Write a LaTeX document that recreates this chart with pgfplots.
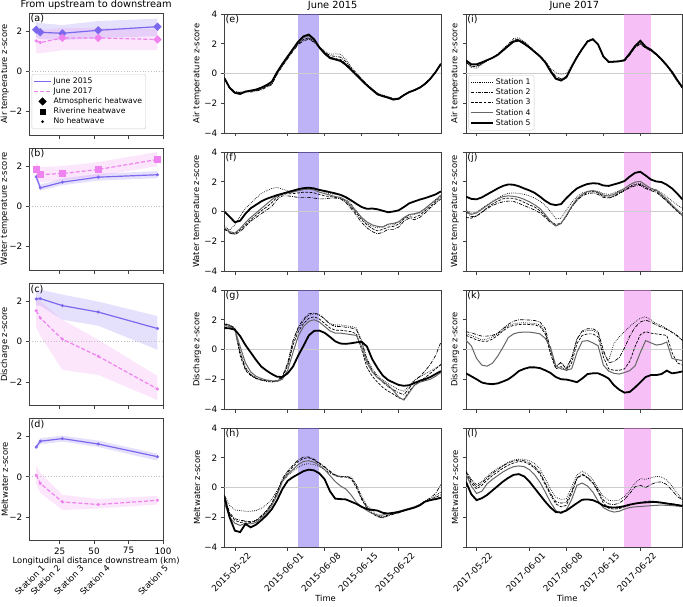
\documentclass[border=0pt]{standalone}
\usepackage{fontspec}
\setmainfont{DejaVu Sans}
\usepackage{pgfplots}
\pgfplotsset{compat=1.18}
\usepackage{pgfplotstable}

\definecolor{c15}{HTML}{7B68EE}
\definecolor{c17}{HTML}{EE82EE}
\newcommand{\fsz}{\fontsize{8.8}{10}\selectfont}
\newcommand{\lsz}{\fontsize{8.4}{10}\selectfont}
\newcommand{\tsz}{\fontsize{9.8}{11}\selectfont}
\newcommand{\lgf}{\fontsize{7.7}{9}\selectfont}
\newcommand{\pfs}{\fontsize{9.6}{11}\selectfont}

% ---------- station means along the river (km downstream) ----------
\pgfplotstableread{
x  y15  y17
8  2.07 1.51
11 1.94 1.43
27 1.89 1.66
53 2.04 1.66
96 2.22 1.58
}\airdist
\pgfplotstableread{
x  y15  y17
8  1.47 1.83
11 0.92 1.58
27 1.20 1.63
53 1.45 1.83
96 1.57 2.33
}\waterdist
\pgfplotstableread{
x  y15  y17
8  2.13 1.55
11 2.15 1.18
27 1.80 0.13
53 1.48 -0.72
96 0.66 -2.35
}\qdist
\pgfplotstableread{
x  y15  y17
8  1.48 0.08
11 1.77 -0.33
27 1.90 -1.25
53 1.63 -1.38
96 1.00 -1.17
}\meltdist

% ---------- daily z-scores, d = days after 22 May ----------
\pgfplotstableread{
d  s1    s2    s3    s4    s5
-2 -0.28 -0.30 -0.35 -0.32 -0.30
-1 -0.92 -0.95 -1.00 -0.98 -0.95
0  -1.22 -1.25 -1.28 -1.32 -1.30
1  -1.25 -1.28 -1.30 -1.35 -1.38
2  -1.18 -1.22 -1.25 -1.20 -1.22
3  -1.20 -1.25 -1.20 -1.18 -1.15
4  -1.12 -1.18 -1.15 -1.10 -1.08
5  -1.02 -1.10 -1.05 -0.98 -0.95
6  -0.85 -0.92 -0.88 -0.80 -0.78
7  -0.68 -0.75 -0.70 -0.60 -0.55
8  0.00  -0.05 0.00  0.05  0.10
9  0.55  0.50  0.55  0.60  0.65
10 1.05  1.00  1.05  1.10  1.15
11 1.55  1.50  1.55  1.60  1.65
12 2.00  1.95  2.00  2.10  2.15
13 2.28  2.20  2.30  2.42  2.50
14 2.38  2.30  2.40  2.52  2.62
15 2.18  2.10  2.15  2.22  2.30
16 1.80  1.75  1.75  1.70  1.75
17 1.50  1.45  1.40  1.30  1.35
18 1.30  1.20  1.10  1.00  1.05
19 1.32  1.15  1.00  0.92  0.95
20 1.30  1.10  0.95  0.82  0.85
21 0.95  0.80  0.65  0.55  0.60
22 0.45  0.35  0.28  0.22  0.25
23 0.05  -0.02 -0.08 -0.12 -0.10
24 -0.35 -0.38 -0.42 -0.48 -0.45
25 -0.72 -0.75 -0.78 -0.82 -0.80
26 -1.02 -1.05 -1.08 -1.12 -1.10
27 -1.32 -1.35 -1.38 -1.42 -1.40
28 -1.45 -1.48 -1.50 -1.55 -1.52
29 -1.55 -1.58 -1.60 -1.65 -1.62
30 -1.68 -1.70 -1.72 -1.78 -1.75
31 -1.64 -1.66 -1.68 -1.72 -1.70
32 -1.42 -1.44 -1.45 -1.47 -1.45
33 -1.22 -1.24 -1.25 -1.27 -1.25
34 -1.08 -1.10 -1.12 -1.14 -1.12
35 -0.92 -0.93 -0.95 -0.97 -0.95
36 -0.66 -0.68 -0.70 -0.72 -0.70
37 -0.32 -0.34 -0.36 -0.37 -0.35
38 0.12  0.10  0.08  0.08  0.10
39 0.66  0.64  0.62  0.62  0.65
}\airA
\pgfplotstableread{
d  s1    s2    s3    s4    s5
-2 -0.95 -1.15 -1.20 -1.10 0.00
-1 -1.25 -1.45 -1.40 -1.35 -0.35
0  -0.90 -1.55 -1.50 -1.45 -0.72
1  -0.30 -1.35 -1.25 -1.15 -0.62
2  0.20  -1.00 -0.90 -0.75 -0.15
3  0.55  -0.65 -0.55 -0.40 0.22
4  0.90  -0.40 -0.25 -0.10 0.45
5  1.20  -0.15 0.05  0.20  0.68
6  1.40  0.10  0.30  0.50  0.85
7  1.55  0.35  0.60  0.80  0.98
8  1.62  0.80  0.95  1.05  1.10
9  1.50  1.05  1.15  1.20  1.20
10 1.40  1.05  1.20  1.25  1.30
11 1.35  1.00  1.20  1.30  1.40
12 1.40  0.95  1.25  1.40  1.50
13 1.50  0.95  1.30  1.48  1.57
14 1.55  0.95  1.30  1.50  1.60
15 1.50  0.90  1.25  1.45  1.55
16 1.45  0.85  1.15  1.30  1.45
17 1.30  0.85  1.05  1.20  1.38
18 1.20  0.90  1.00  1.10  1.30
19 1.15  0.90  0.95  1.00  1.22
20 1.10  0.85  0.90  0.95  1.12
21 0.90  0.60  0.70  0.75  0.97
22 0.50  0.20  0.30  0.40  0.75
23 0.05  -0.25 -0.10 0.00  0.52
24 -0.45 -0.75 -0.55 -0.40 0.30
25 -0.80 -1.10 -0.90 -0.70 0.18
26 -1.00 -1.35 -1.15 -0.90 0.20
27 -1.10 -1.50 -1.30 -1.00 0.15
28 -1.00 -1.40 -1.20 -1.05 0.05
29 -0.90 -1.20 -1.05 -0.85 -0.05
30 -0.90 -1.20 -1.00 -0.80 0.00
31 -0.70 -1.05 -0.85 -0.70 0.08
32 -0.45 -0.65 -0.50 -0.40 0.30
33 -0.25 -0.45 -0.35 -0.20 0.55
34 -0.20 -0.55 -0.40 -0.15 0.68
35 -0.10 -0.40 -0.25 -0.05 0.80
36 0.15  -0.10 0.05  0.20  0.90
37 0.50  0.25  0.35  0.50  1.02
38 0.80  0.55  0.65  0.75  1.15
39 1.10  0.85  1.00  1.10  1.35
}\waterA
\pgfplotstableread{
d  s1    s2    s3    s4    s5
-2 1.75  1.70  1.65  1.60  1.45
-1 1.65  1.65  1.60  1.55  1.42
0  1.40  1.45  1.35  1.30  1.33
1  -0.10 -0.20 -0.40 0.20  0.90
2  -1.20 -1.30 -1.40 -0.90 0.30
3  -1.65 -1.70 -1.75 -1.50 -0.20
4  -1.90 -1.95 -1.95 -1.80 -0.70
5  -2.05 -2.05 -2.05 -1.95 -1.15
6  -2.15 -2.10 -2.10 -2.05 -1.42
7  -2.20 -2.12 -2.15 -2.10 -1.65
8  -2.15 -2.10 -2.15 -2.15 -1.83
9  -1.85 -1.80 -1.90 -2.00 -1.85
10 -1.00 -0.90 -1.10 -1.40 -1.60
11 0.50  0.60  0.30  -0.20 -1.15
12 1.40  1.50  1.20  0.90  -0.40
13 1.95  2.05  1.75  1.55  0.25
14 2.30  2.40  2.10  1.90  0.95
15 2.40  2.45  2.20  2.00  1.25
16 2.30  2.35  2.05  1.85  1.27
17 2.05  2.05  1.75  1.55  1.12
18 1.75  1.70  1.45  1.25  0.85
19 1.65  1.55  1.30  1.10  0.55
20 1.65  1.55  1.30  1.10  0.40
21 1.60  1.50  1.25  1.05  0.38
22 1.55  1.45  1.20  1.00  0.42
23 1.45  1.35  1.05  0.95  0.48
24 0.60  0.50  0.00  0.20  0.52
25 -0.60 -0.70 -1.20 -0.90 0.20
26 -1.30 -1.40 -1.80 -1.50 -0.65
27 -1.75 -1.85 -2.20 -1.90 -1.25
28 -2.05 -2.20 -2.55 -2.15 -1.75
29 -2.30 -2.50 -2.80 -2.40 -2.05
30 -2.50 -2.70 -3.00 -2.75 -2.22
31 -2.70 -2.90 -3.25 -3.20 -2.38
32 -2.80 -3.05 -3.35 -3.40 -2.44
33 -2.45 -2.60 -2.80 -2.90 -2.40
34 -2.05 -2.10 -2.40 -2.40 -2.25
35 -1.85 -1.80 -2.10 -2.20 -2.10
36 -1.65 -1.45 -1.90 -2.10 -2.00
37 -1.45 -1.00 -1.60 -2.00 -1.85
38 -1.25 -0.40 -1.30 -1.80 -1.65
39 -1.05 0.50  -1.00 -1.55 -1.45
}\qA
\pgfplotstableread{
d  s1    s2    s3    s4    s5
-2 -0.50 -0.50 -0.80 -1.00 -0.60
-1 -1.20 -1.70 -1.80 -2.00 -2.00
0  -1.50 -2.10 -2.20 -2.40 -2.90
1  -1.55 -2.20 -2.35 -2.55 -3.00
2  -1.60 -2.25 -2.30 -2.40 -2.45
3  -1.60 -2.30 -2.35 -2.45 -2.68
4  -1.55 -2.20 -2.25 -2.35 -2.50
5  -1.40 -1.90 -1.95 -2.05 -2.20
6  -1.15 -1.55 -1.60 -1.70 -1.87
7  -0.80 -1.05 -1.10 -1.20 -1.45
8  -0.20 -0.30 -0.40 -0.50 -0.85
9  0.40  0.60  0.50  0.40  -0.10
10 0.80  1.10  1.00  0.90  0.45
11 1.10  1.50  1.40  1.20  0.70
12 1.35  1.85  1.75  1.55  0.90
13 1.55  2.05  1.95  1.75  1.10
14 1.60  2.05  2.00  1.80  1.20
15 1.55  1.90  1.85  1.70  1.15
16 1.40  1.65  1.60  1.50  0.95
17 1.20  1.40  1.35  1.20  0.55
18 0.95  1.10  1.05  0.80  -0.25
19 0.80  0.85  0.80  0.40  -0.75
20 0.75  0.75  0.70  0.10  -0.78
21 0.75  0.75  0.70  -0.10 -0.80
22 0.70  0.65  0.60  -0.50 -0.95
23 0.20  0.10  0.00  -1.00 -1.10
24 -0.60 -0.70 -0.80 -1.30 -1.30
25 -1.20 -1.30 -1.40 -1.55 -1.45
26 -1.60 -1.70 -1.75 -1.75 -1.50
27 -1.85 -1.95 -1.95 -1.85 -1.55
28 -2.00 -2.05 -2.00 -1.85 -1.70
29 -1.85 -1.90 -1.85 -1.75 -1.75
30 -1.75 -1.80 -1.75 -1.70 -1.70
31 -1.65 -1.70 -1.70 -1.60 -1.65
32 -1.55 -1.55 -1.55 -1.50 -1.55
33 -1.45 -1.45 -1.45 -1.40 -1.45
34 -1.35 -1.30 -1.35 -1.30 -1.35
35 -1.15 -1.15 -1.20 -1.15 -1.20
36 -0.95 -0.90 -0.95 -0.95 -0.95
37 -0.80 -0.70 -0.80 -0.85 -0.85
38 -0.55 -0.40 -0.65 -0.75 -0.78
39 -0.30 0.20  -0.50 -0.65 -0.70
}\meltA
\pgfplotstableread{
d  s1    s2    s3    s4    s5
-2 0.80  0.75  0.78  0.85  0.88
-1 0.40  0.50  0.48  0.60  0.62
0  0.35  0.45  0.50  0.58  0.62
1  0.60  0.65  0.68  0.72  0.75
2  0.85  0.85  0.88  0.90  0.90
3  1.05  1.05  1.05  1.05  1.05
4  1.30  1.30  1.28  1.25  1.25
5  1.65  1.60  1.58  1.55  1.55
6  2.00  1.95  1.90  1.85  1.85
7  2.35  2.25  2.20  2.12  2.15
8  2.40  2.30  2.25  2.18  2.22
9  2.15  2.10  2.05  2.00  2.00
10 1.85  1.80  1.78  1.75  1.75
11 1.50  1.48  1.45  1.45  1.45
12 1.20  1.20  1.15  1.15  1.15
13 0.85  0.80  0.78  0.75  0.75
14 0.35  0.25  0.20  0.15  0.15
15 0.05  -0.20 -0.30 -0.38 -0.35
16 -0.05 -0.35 -0.42 -0.50 -0.47
17 0.00  -0.20 -0.25 -0.28 -0.25
18 0.55  0.45  0.42  0.45  0.45
19 1.15  1.10  1.08  1.10  1.10
20 1.70  1.65  1.65  1.65  1.65
21 2.20  2.15  2.18  2.15  2.15
22 2.35  2.30  2.30  2.28  2.30
23 1.95  1.95  1.95  1.95  1.95
24 1.10  1.10  1.12  1.15  1.15
25 0.75  0.75  0.76  0.78  0.78
26 0.75  0.78  0.78  0.80  0.80
27 0.80  0.80  0.82  0.82  0.82
28 0.85  0.85  0.88  0.90  0.90
29 1.25  1.25  1.30  1.35  1.35
30 1.75  1.75  1.80  1.85  1.85
31 2.00  1.98  2.05  2.15  2.20
32 1.72  1.70  1.75  1.78  1.80
33 1.55  1.52  1.55  1.58  1.60
34 1.25  1.25  1.28  1.30  1.30
35 0.90  0.92  0.95  0.98  0.95
36 0.50  0.55  0.55  0.58  0.55
37 0.00  0.05  0.08  0.12  0.10
38 -0.55 -0.50 -0.48 -0.42 -0.45
39 -1.05 -1.00 -1.00 -0.95 -0.95
}\airB
\pgfplotstableread{
d  s1    s2    s3    s4    s5
-2 0.10  0.00  -0.40 0.05  1.00
-1 -0.10 -0.35 -0.45 -0.20 0.85
0  -0.05 -0.30 -0.30 -0.10 0.82
1  0.20  -0.05 -0.05 0.15  0.95
2  0.45  0.20  0.25  0.40  1.15
3  0.70  0.40  0.50  0.65  1.35
4  0.90  0.55  0.70  0.85  1.55
5  1.10  0.65  0.85  1.00  1.72
6  1.22  0.70  0.90  1.05  1.82
7  1.25  0.68  0.88  1.02  1.80
8  1.22  0.55  0.78  0.95  1.70
9  1.15  0.40  0.62  0.82  1.55
10 1.05  0.25  0.45  0.65  1.42
11 0.90  0.10  0.30  0.45  1.25
12 0.70  -0.10 0.05  0.20  1.00
13 0.40  -0.40 -0.30 -0.20 0.72
14 0.00  -0.75 -0.65 -0.65 0.50
15 -0.50 -0.95 -0.88 -0.98 0.43
16 -0.45 -0.80 -0.78 -0.80 0.50
17 0.10  -0.30 -0.30 -0.25 0.90
18 0.60  0.30  0.30  0.35  1.25
19 1.00  0.75  0.78  0.85  1.55
20 1.25  1.05  1.10  1.15  1.72
21 1.35  1.20  1.30  1.35  1.85
22 1.40  1.25  1.35  1.40  1.90
23 1.35  1.15  1.25  1.30  1.88
24 1.20  0.95  1.00  1.10  1.75
25 1.15  0.90  0.95  1.05  1.72
26 1.25  1.00  1.05  1.15  1.82
27 1.40  1.20  1.25  1.35  1.92
28 1.55  1.40  1.45  1.55  2.05
29 1.70  1.60  1.65  1.80  2.35
30 1.85  1.72  1.80  1.98  2.60
31 1.90  1.75  1.82  2.02  2.67
32 1.70  1.55  1.62  1.78  2.42
33 1.55  1.40  1.45  1.55  2.15
34 1.45  1.30  1.38  1.45  2.02
35 1.25  1.00  1.05  1.15  1.98
36 1.00  0.70  0.72  0.82  1.80
37 0.70  0.35  0.35  0.45  1.55
38 0.45  0.05  0.00  0.10  1.20
39 0.20  -0.25 -0.30 -0.25 0.80
}\waterB
\pgfplotstableread{
d  s1    s2    s3    s4    s5
-2 1.05  1.20  0.95  0.62  -1.60
-1 0.95  1.12  0.80  0.25  -1.80
0  0.80  1.00  0.65  -0.60 -2.00
1  0.65  0.90  0.55  -1.05 -2.22
2  0.70  0.90  0.55  -1.12 -2.30
3  0.85  0.95  0.70  -0.92 -2.33
4  1.05  1.10  0.95  -0.45 -2.28
5  1.35  1.40  1.25  0.15  -2.15
6  1.60  1.70  1.50  0.80  -2.00
7  1.72  1.90  1.62  1.05  -1.75
8  1.78  2.00  1.68  1.15  -1.45
9  1.80  2.00  1.70  1.17  -1.30
10 1.78  1.98  1.68  1.17  -1.20
11 1.75  1.95  1.65  1.12  -1.20
12 1.65  1.85  1.55  1.05  -1.25
13 1.20  1.40  1.05  0.75  -1.40
14 -0.20 0.00  -0.30 0.15  -1.58
15 -1.10 -1.20 -1.30 -1.10 -1.85
16 -0.90 -0.85 -1.15 -1.30 -2.00
17 -1.25 -1.35 -1.45 -1.38 -2.02
18 -0.50 -0.60 -0.90 -1.30 -2.10
19 0.70  0.70  0.40  -0.20 -2.20
20 1.20  1.25  0.95  0.55  -1.95
21 1.28  1.40  1.05  0.60  -1.65
22 1.28  1.40  1.05  0.45  -1.60
23 1.10  1.20  0.85  0.25  -1.60
24 -0.20 -0.05 -0.50 -1.05 -1.75
25 -0.75 -0.90 -1.30 -1.45 -1.95
26 0.40  -0.80 -1.40 -1.60 -2.40
27 0.85  -0.55 -1.40 -1.65 -2.70
28 1.20  0.10  -1.30 -1.55 -2.90
29 1.55  0.90  -0.80 -1.42 -2.85
30 1.85  1.50  0.20  -1.10 -2.55
31 2.10  1.85  1.00  -0.20 -2.20
32 2.20  1.98  1.20  0.60  -1.85
33 2.00  1.85  1.10  0.45  -1.72
34 1.75  1.65  1.05  0.30  -1.72
35 1.60  1.50  1.00  0.35  -1.65
36 1.40  1.35  0.95  0.50  -1.42
37 1.20  1.15  -0.20 -0.60 -1.60
38 0.95  0.90  -0.90 -0.68 -1.55
39 0.60  0.60  -1.05 -0.75 -1.47
}\qB
\pgfplotstableread{
d  s1    s2    s3    s4    s5
-2 1.10  1.05  1.00  0.90  0.38
-1 0.55  0.45  0.30  0.10  -0.45
0  0.20  0.05  -0.10 -0.40 -0.85
1  0.40  0.30  0.15  -0.25 -0.72
2  0.75  0.65  0.50  0.25  -0.50
3  1.05  0.95  0.80  0.55  -0.20
4  1.30  1.20  1.05  0.80  0.10
5  1.50  1.45  1.30  1.05  0.40
6  1.70  1.65  1.50  1.25  0.65
7  1.85  1.78  1.65  1.40  0.85
8  1.90  1.85  1.75  1.45  0.90
9  1.90  1.80  1.72  1.40  0.75
10 1.80  1.65  1.55  1.20  0.40
11 1.60  1.40  1.30  0.85  -0.05
12 1.25  1.00  0.90  0.35  -0.50
13 0.60  0.30  0.20  -0.30 -0.95
14 -0.10 -0.40 -0.50 -1.00 -1.35
15 -0.65 -0.95 -1.10 -1.55 -1.65
16 -0.80 -1.05 -1.30 -1.75 -1.68
17 -0.75 -1.00 -1.20 -1.50 -1.55
18 0.05  -0.25 -0.40 -0.80 -1.30
19 0.85  0.65  0.60  0.15  -1.05
20 1.10  0.90  0.85  0.30  -0.82
21 0.90  0.70  0.65  0.10  -0.80
22 0.55  0.35  0.30  -0.30 -0.85
23 -0.05 -0.20 -0.30 -0.90 -1.00
24 -0.60 -0.85 -1.05 -1.35 -1.22
25 -0.85 -1.10 -1.40 -1.55 -1.32
26 -0.90 -1.15 -1.45 -1.65 -1.35
27 -0.85 -1.05 -1.42 -1.60 -1.32
28 -0.60 -0.80 -1.30 -1.45 -1.25
29 -0.20 -0.40 -1.20 -1.35 -1.15
30 0.30  0.05  -1.10 -1.30 -1.08
31 0.60  0.15  -1.00 -1.28 -1.03
32 0.55  0.00  -0.95 -1.25 -1.00
33 0.65  0.20  -0.90 -1.22 -0.98
34 0.75  0.35  -0.95 -1.20 -0.98
35 0.70  0.38  -1.00 -1.18 -1.02
36 0.50  0.20  -1.05 -1.20 -1.08
37 0.10  -0.20 -1.10 -1.22 -1.12
38 -0.40 -0.60 -1.15 -1.25 -1.18
39 -0.80 -0.85 -1.20 -1.28 -1.24
}\meltB

\pgfplotsset{
  base/.style={scale only axis, tick pos=left, tick align=outside,
    major tick length=3.5pt,
    axis line style={black!75, line width=0.6pt},
    tick style={black!75, line width=0.6pt},
    every tick label/.append style={font=\fsz},
    label style={font=\lsz}, title style={font=\tsz, yshift=-6pt},
    /pgf/number format/assume math mode=true},
  leftcol/.style={base, width=133.7pt, height=122pt,
    xmin=3, xmax=100, ymin=-3.17, ymax=2.9,
    xtick={25,50,75,100}, xticklabels={}, ytick={-2,0,2}, yticklabels={−2,0,2},
    ylabel style={at={(axis description cs:0,0.5)}, anchor=center, yshift=24.5pt}},
  timecol/.style={base, width=216.6pt, height=119pt,
    xmin=-2, xmax=39, ymin=-4, ymax=4,
    xtick={0,10,17,24,31}, xticklabels={}, ytick={-4,-2,0,2,4}},
  midcol/.style={timecol, yticklabels={−4,−2,0,2,4},
    ylabel style={at={(axis description cs:0,0.5)}, anchor=center, yshift=27.3pt}},
  rightcol/.style={timecol, yticklabels={},
    ylabel style={at={(axis description cs:0,0.5)}, anchor=center, yshift=11pt}},
  datelabels/.style={xticklabel style={xshift=12pt, yshift=4pt, rotate=45, anchor=north east},
    xlabel style={at={(axis description cs:0.5,0)}, anchor=center, xshift=-7pt, yshift=-51pt}},
  st1/.style={black, line width=0.7pt, dash pattern=on 0.7pt off 1.2pt},
  st2/.style={black, line width=0.7pt, dash pattern=on 3.5pt off 1.2pt on 0.7pt off 1.2pt},
  st3/.style={black, line width=0.7pt, dash pattern=on 2.8pt off 1.4pt},
  st4/.style={black!60, line width=1pt},
  st5/.style={black, line width=1.8pt},
  lgd/.style={legend style={at={#1}, anchor=north west, font=\lgf,
    draw=black!20, fill=white, rounded corners=2pt, inner sep=1.5pt, row sep=-1.2pt},
    legend cell align=left},
  l15/.style={c15, line width=1.2pt},
  l17/.style={c17, line width=1.2pt, dash pattern=on 4pt off 2pt},
  band15/.style={fill=c15, fill opacity=0.2, draw=none, forget plot},
  band17/.style={fill=c17, fill opacity=0.2, draw=none, forget plot},
  zero/.style={black!25, line width=0.7pt, dotted, forget plot},
  diam/.style={only marks, forget plot, mark=square*, mark size=2.7pt, mark options={solid, rotate=45}},
  sq/.style={only marks, forget plot, mark=square*, mark size=3pt, mark options={solid}},
  dot/.style={only marks, forget plot, mark=*, mark size=1.4pt, mark options={solid}},
}

% one time-series panel: heatwave window, zero line, five stations
\newcommand{\series}[4]{%
  \addplot[fill=#2, fill opacity=0.5, draw=none, forget plot]
    coordinates {(#3,-4) (#3,4) (#4,4) (#4,-4)};
  \addplot[black!20, line width=0.8pt, forget plot] coordinates {(-2,0) (39,0)};
  \addplot[st1] table[x=d, y=s1]{#1};
  \addplot[st2] table[x=d, y=s2]{#1};
  \addplot[st3] table[x=d, y=s3]{#1};
  \addplot[st4] table[x=d, y=s4]{#1};
  \addplot[st5] table[x=d, y=s5]{#1};
}
\newcommand{\panel}[1]{\node[anchor=north west, inner sep=1.2pt, font=\pfs] at (rel axis cs:0,1) {#1};}

\begin{document}
\begin{tikzpicture}
\useasboundingbox (0,0) rectangle (683pt,-606pt);

% ----- left column: along the river -----
\begin{axis}[leftcol, at={(29.3pt,-13pt)}, anchor=north west,
  title={From upstream to downstream}, ylabel={Air temperature z-score},
  lgd={(0.018,0.5)},
  legend entries={June 2015, June 2017, Atmospheric heatwave, Riverine heatwave, No heatwave}]
  \addplot[band15] coordinates {(8,1.70) (11,1.60) (27,1.55) (53,1.65) (96,1.75)
    (96,2.62) (53,2.50) (27,2.30) (11,2.40) (8,2.45)};
  \addplot[band17] coordinates {(8,0.90) (11,0.90) (27,1.05) (53,1.05) (96,1.05)
    (96,2.10) (53,2.15) (27,2.15) (11,2.05) (8,2.10)};
  \addplot[zero] coordinates {(3,0) (100,0)};
  \addplot[l15] table[x=x, y=y15]{\airdist};
  \addplot[l17] table[x=x, y=y17]{\airdist};
  \addplot[c15, diam] table[x=x, y=y15]{\airdist};
  \addplot[c17, dot, skip coords between index={2}{5}] table[x=x, y=y17]{\airdist};
  \addplot[c17, diam, skip coords between index={0}{2}] table[x=x, y=y17]{\airdist};
  \addlegendimage{only marks, mark=square*, mark size=2.7pt, mark options={rotate=45}, black}
  \addlegendimage{only marks, mark=square*, mark size=2.7pt, black}
  \addlegendimage{only marks, mark=*, mark size=1.2pt, black}
  \panel{(a)}
\end{axis}
\begin{axis}[leftcol, at={(29.3pt,-148pt)}, anchor=north west,
  ylabel={Water temperature z-score}]
  \addplot[band15] coordinates {(8,1.30) (11,0.78) (27,1.05) (53,1.28) (96,1.40)
    (96,1.75) (53,1.62) (27,1.38) (11,1.08) (8,1.62)};
  \addplot[band17] coordinates {(8,1.40) (11,1.20) (27,1.30) (53,1.50) (96,2.00)
    (96,2.70) (53,2.20) (27,2.00) (11,1.95) (8,2.20)};
  \addplot[zero] coordinates {(3,0) (100,0)};
  \addplot[l15] table[x=x, y=y15]{\waterdist};
  \addplot[l17] table[x=x, y=y17]{\waterdist};
  \addplot[c15, dot] table[x=x, y=y15]{\waterdist};
  \addplot[c17, sq] table[x=x, y=y17]{\waterdist};
  \panel{(b)}
\end{axis}
\begin{axis}[leftcol, at={(29.3pt,-283.5pt)}, anchor=north west,
  ylabel={Discharge z-score}]
  \addplot[band15] coordinates {(8,1.80) (11,1.80) (27,1.10) (53,0.80) (96,-0.40)
    (96,1.28) (53,2.00) (27,2.35) (11,2.60) (8,2.60)};
  \addplot[band17] coordinates {(8,0.70) (11,0.30) (27,-1.40) (53,-1.65) (96,-2.90)
    (96,-1.70) (53,0.10) (27,1.10) (11,2.00) (8,2.30)};
  \addplot[zero] coordinates {(3,0) (100,0)};
  \addplot[l15] table[x=x, y=y15]{\qdist};
  \addplot[l17] table[x=x, y=y17]{\qdist};
  \addplot[c15, dot] table[x=x, y=y15]{\qdist};
  \addplot[c17, dot] table[x=x, y=y17]{\qdist};
  \panel{(c)}
\end{axis}
\begin{axis}[leftcol, at={(29.3pt,-418.5pt)}, anchor=north west,
  ylabel={Meltwater z-score}, xticklabels={25,50,75,100},
  xlabel={Longitudinal distance downstream (km)},
  xlabel style={at={(axis description cs:0.5,0)}, anchor=center, yshift=-21pt},
  % station names, spread out below the axis title
  extra x ticks={4.2,15.5,32.5,51.4,93.5},
  extra x tick labels={Station 1,Station 2,Station 3,Station 4,Station 5},
  extra x tick style={major tick length=0pt,
    xticklabel style={font=\lsz, xshift=10pt, yshift=-19pt, rotate=45, anchor=north east}}]
  \addplot[band15] coordinates {(8,1.35) (11,1.62) (27,1.75) (53,1.48) (96,0.80)
    (96,1.15) (53,1.80) (27,2.05) (11,1.92) (8,1.62)};
  \addplot[band17] coordinates {(8,-0.35) (11,-0.80) (27,-1.65) (53,-1.58) (96,-1.38)
    (96,-0.95) (53,-1.10) (27,-0.90) (11,0.20) (8,0.55)};
  \addplot[zero] coordinates {(3,0) (100,0)};
  \addplot[l15] table[x=x, y=y15]{\meltdist};
  \addplot[l17] table[x=x, y=y17]{\meltdist};
  \addplot[c15, dot] table[x=x, y=y15]{\meltdist};
  \addplot[c17, dot] table[x=x, y=y17]{\meltdist};
  \panel{(d)}
\end{axis}

% ----- middle column: June 2015 -----
\begin{axis}[midcol, at={(224.3pt,-14pt)}, anchor=north west,
  title={June 2015}, ylabel={Air temperature z-score}]
  \series{\airA}{c15}{12}{16}
  \panel{(e)}
\end{axis}
\begin{axis}[midcol, at={(224.3pt,-152pt)}, anchor=north west,
  ylabel={Water temperature z-score}]
  \series{\waterA}{c15}{12}{16}
  \panel{(f)}
\end{axis}
\begin{axis}[midcol, at={(224.3pt,-290pt)}, anchor=north west,
  ylabel={Discharge z-score}]
  \series{\qA}{c15}{12}{16}
  \panel{(g)}
\end{axis}
\begin{axis}[midcol, datelabels, at={(224.3pt,-428pt)}, anchor=north west,
  ylabel={Meltwater z-score}, xlabel={Time},
  xticklabels={2015-05-22,2015-06-01,2015-06-08,2015-06-15,2015-06-22}]
  \series{\meltA}{c15}{12}{16}
  \panel{(h)}
\end{axis}

% ----- right column: June 2017 -----
\begin{axis}[rightcol, lgd={(0.011,0.487)}, at={(466pt,-14pt)}, anchor=north west,
  title={June 2017}, ylabel={Air temperature z-score},
  legend image code/.code={\draw[#1] (0pt,0pt) -- (22pt,0pt);},
  legend entries={Station 1,Station 2,Station 3,Station 4,Station 5}]
  \series{\airB}{c17}{28}{33}
  \panel{(i)}
\end{axis}
\begin{axis}[rightcol, at={(466pt,-152pt)}, anchor=north west,
  ylabel={Water temperature z-score}]
  \series{\waterB}{c17}{28}{33}
  \panel{(j)}
\end{axis}
\begin{axis}[rightcol, at={(466pt,-290pt)}, anchor=north west,
  ylabel={Discharge z-score}]
  \series{\qB}{c17}{28}{33}
  \panel{(k)}
\end{axis}
\begin{axis}[rightcol, datelabels, at={(466pt,-428pt)}, anchor=north west,
  ylabel={Meltwater z-score}, xlabel={Time},
  xticklabels={2017-05-22,2017-06-01,2017-06-08,2017-06-15,2017-06-22}]
  \series{\meltB}{c17}{28}{33}
  \panel{(l)}
\end{axis}
\end{tikzpicture}
\end{document}
